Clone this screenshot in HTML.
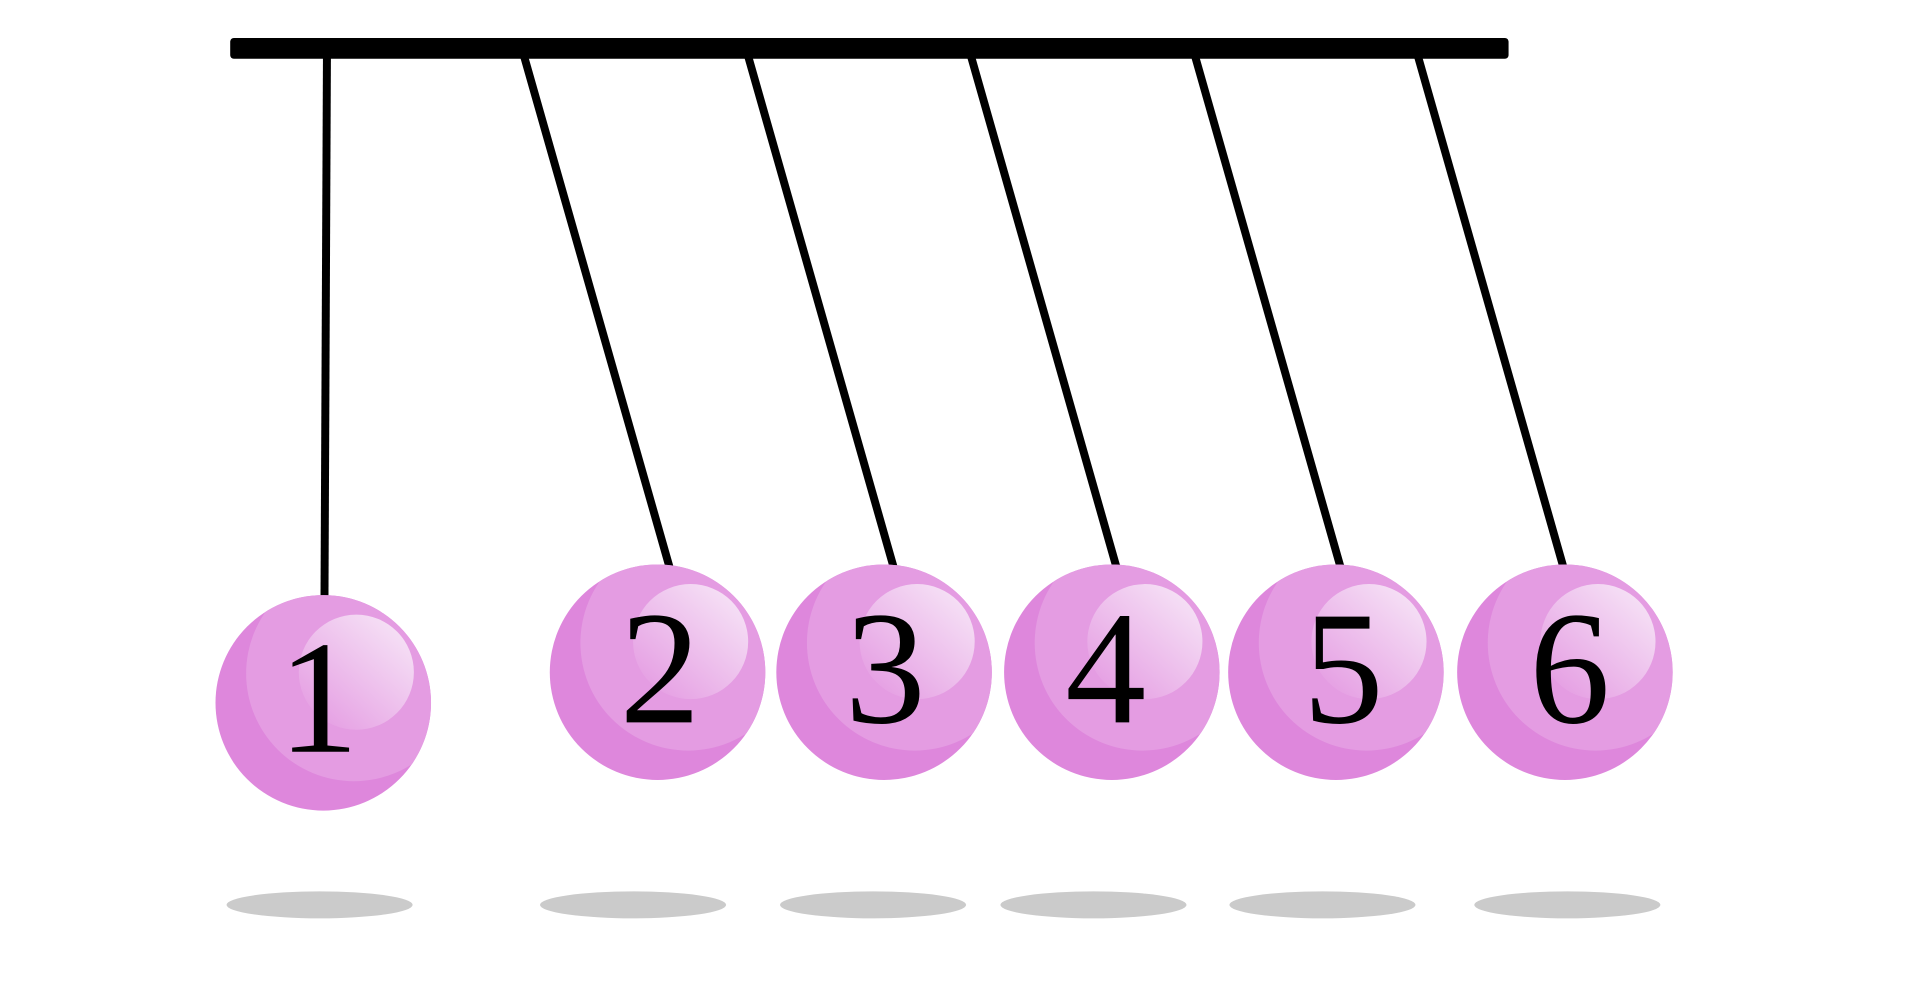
<!DOCTYPE html>
<html><head><meta charset="utf-8"><style>html,body{margin:0;padding:0;background:#fff;overflow:hidden}svg{display:block}</style></head>
<body>
<svg width="1920" height="982" viewBox="0 0 1568 802" preserveAspectRatio="none" xmlns="http://www.w3.org/2000/svg">
<defs>
<linearGradient id="hl" x1="0.2" y1="0.9" x2="0.9" y2="0.1">
<stop offset="0" stop-color="#e6a2e4" stop-opacity="1"/>
<stop offset="1" stop-color="#f6e2f6"/>
</linearGradient>
<g id="ball">
<circle cx="0" cy="0" r="88" fill="#de87dc"/>
<clipPath id="bc"><circle cx="0" cy="0" r="88"/></clipPath>
<circle cx="25" cy="-24" r="88" fill="#e49ce2" clip-path="url(#bc)"/>
<circle cx="27" cy="-25" r="47" fill="url(#hl)"/>
</g>
</defs>
<rect x="188" y="31" width="1044" height="17" rx="3" fill="#000"/>
<g stroke="#000" stroke-width="6.5">
<line x1="267" y1="46" x2="265" y2="488"/>
<line x1="428" y1="46" x2="547" y2="464"/>
<line x1="611" y1="46" x2="730" y2="464"/>
<line x1="793" y1="46" x2="912" y2="464"/>
<line x1="976" y1="46" x2="1095" y2="464"/>
<line x1="1158" y1="46" x2="1277" y2="464"/>
</g>
<g fill="#cbcbcb">
<ellipse cx="261" cy="739" rx="76" ry="11"/>
<ellipse cx="517" cy="739" rx="76" ry="11"/>
<ellipse cx="713" cy="739" rx="76" ry="11"/>
<ellipse cx="893" cy="739" rx="76" ry="11"/>
<ellipse cx="1080" cy="739" rx="76" ry="11"/>
<ellipse cx="1280" cy="739" rx="76" ry="11"/>
</g>
<use href="#ball" x="264" y="574"/>
<use href="#ball" x="537" y="549"/>
<use href="#ball" x="722" y="549"/>
<use href="#ball" x="908" y="549"/>
<use href="#ball" x="1091" y="549"/>
<use href="#ball" x="1278" y="549"/>
<g font-family="'Liberation Serif', serif" font-size="132" fill="#000" text-anchor="middle">
<text x="260" y="614">1</text>
<text x="539" y="590">2</text>
<text x="723" y="590">3</text>
<text x="903" y="590">4</text>
<text x="1097" y="590">5</text>
<text x="1282" y="590">6</text>
</g>
</svg>
</body></html>
